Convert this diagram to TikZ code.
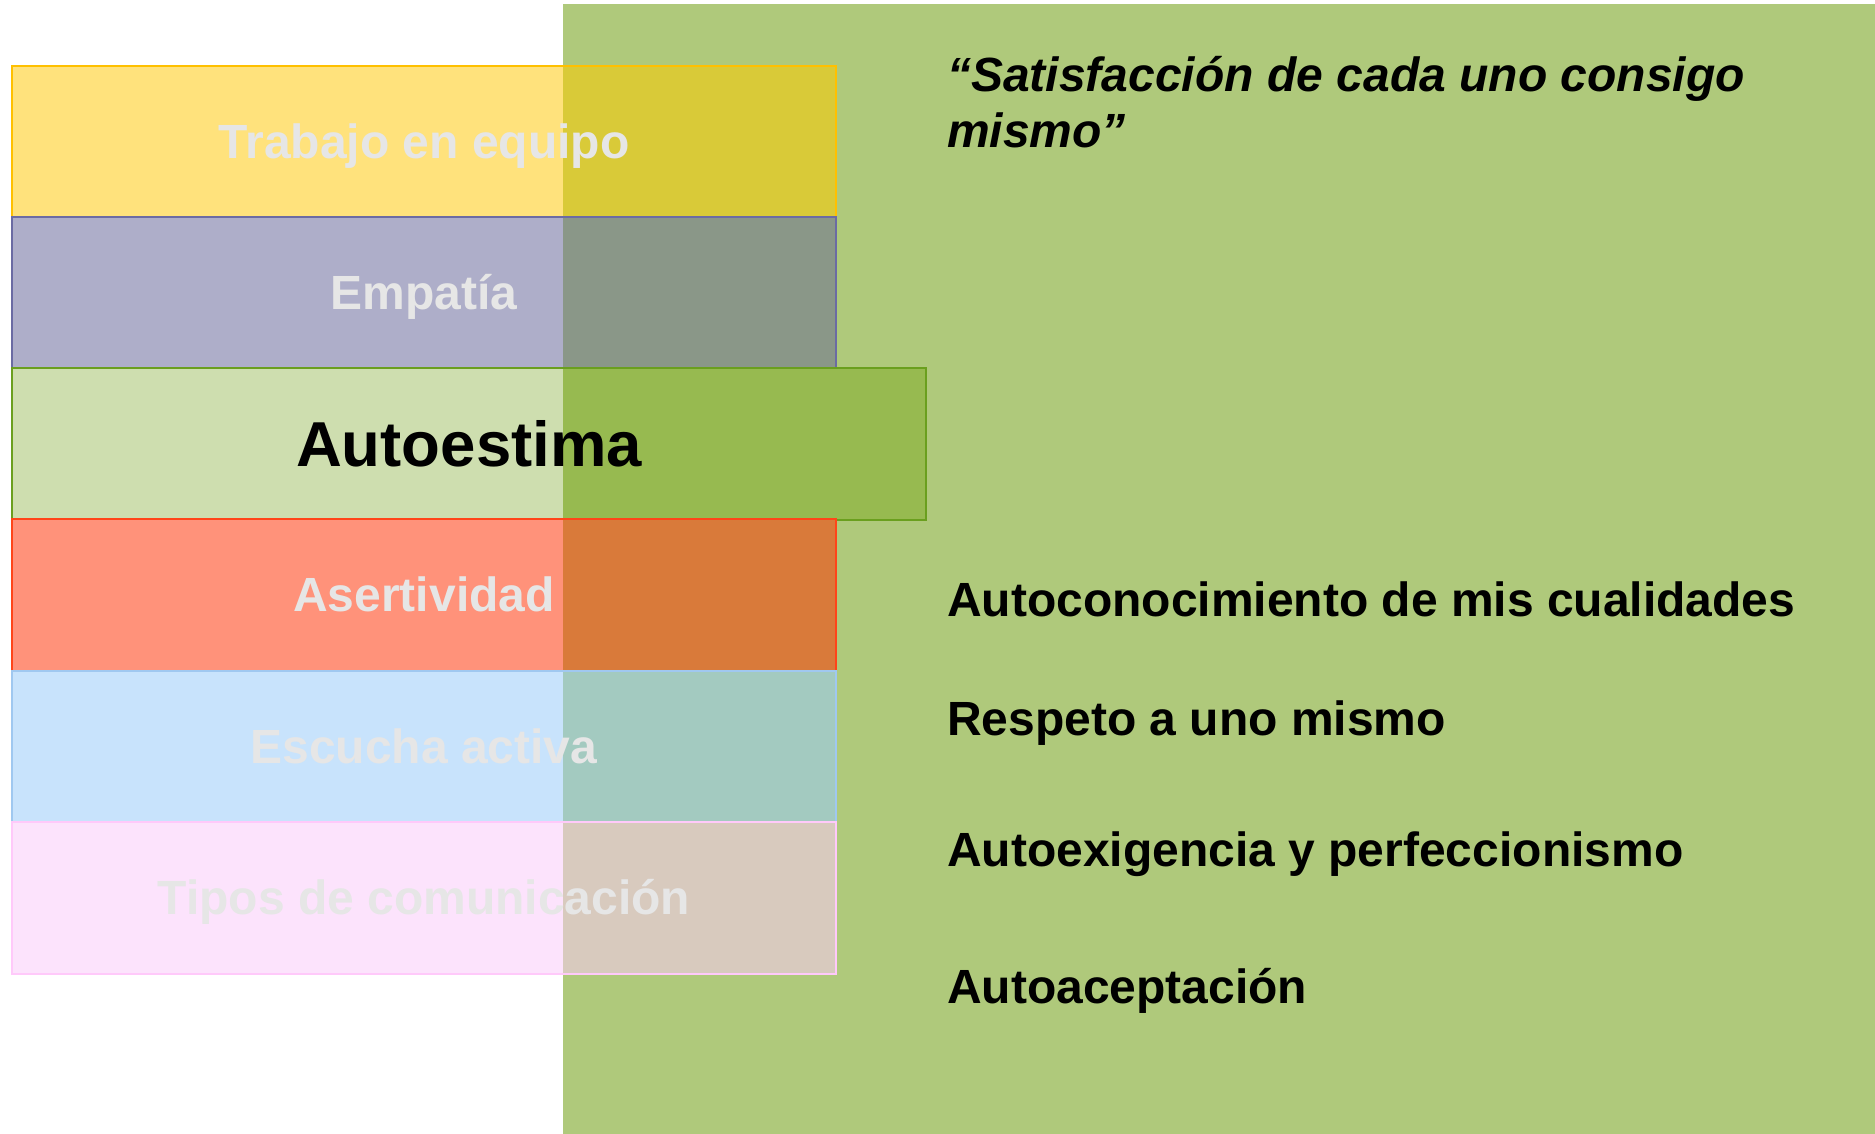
\documentclass[tikz,border=0pt]{standalone}
\usepackage{fontspec}
\setmainfont{Liberation Sans}
\definecolor{greenbg}{HTML}{AFC97B}
\definecolor{yelout}{HTML}{FFE27C}\definecolor{yelin}{HTML}{D9CA38}\definecolor{yelbd}{HTML}{FFC000}
\definecolor{purout}{HTML}{AEAEC9}\definecolor{purin}{HTML}{8A9788}\definecolor{purbd}{HTML}{6B6BA3}
\definecolor{grnout}{HTML}{CEDEAF}\definecolor{grnin}{HTML}{97BA50}\definecolor{grnbd}{HTML}{6A9F1E}
\definecolor{redout}{HTML}{FF927A}\definecolor{redin}{HTML}{D97A3A}\definecolor{redbd}{HTML}{FF4519}
\definecolor{bluout}{HTML}{C8E3FC}\definecolor{bluin}{HTML}{A3CAC0}\definecolor{blubd}{HTML}{A0C8F0}
\definecolor{pnkout}{HTML}{FCE3FC}\definecolor{pnkin}{HTML}{D8CABE}\definecolor{pnkbd}{HTML}{FFC9FA}
\definecolor{lbltext}{HTML}{E6E6E6}
\tikzset{
  bar/.style n args={3}{rectangle, anchor=north west, inner sep=0pt, line width=2pt,
    minimum width=824pt, minimum height=151.5pt, fill=#1, draw=#3,
    path picture={\fill[#2] (greenleft |- path picture bounding box.south) rectangle (path picture bounding box.north east);},
    text=lbltext, font=\fontsize{48}{55}\selectfont\bfseries, text height=34pt, text depth=0pt},
  item/.style={anchor=base west, inner sep=0pt, font=\fontsize{48}{55}\selectfont\bfseries, text=black}
}
\begin{document}
\begin{tikzpicture}[x=1pt,y=-1pt]
\useasboundingbox (0,0) rectangle (1875,1134);
\fill[white] (0,0) rectangle (1875,1134);
\coordinate (greenleft) at (563,0);
\fill[greenbg] (greenleft |- 0,4) rectangle (1875,1134);
\node[bar={yelout}{yelin}{yelbd}] (b1) at (11,65) {Trabajo en equipo};
\node[bar={purout}{purin}{purbd}] (b2) at (11,216) {Empatía};
\node[bar={grnout}{grnin}{grnbd}, minimum width=914pt, text=black, font=\fontsize{63.5}{70}\selectfont\bfseries, text height=45.5pt] (b3) at (11,367) {Autoestima};
\node[bar={redout}{redin}{redbd}] (b4) at (11,518) {Asertividad};
\node[bar={bluout}{bluin}{blubd}] (b5) at (11,669.5) {Escucha activa};
\node[bar={pnkout}{pnkin}{pnkbd}] (b6) at (11,821) {Tipos de comunicación};
\node[item, align=left, font=\fontsize{48}{56}\selectfont\bfseries\itshape] (q) at (947,148) {“Satisfacción de cada uno consigo\\mismo”};
\node[item] (i1) at (947,616) {Autoconocimiento de mis cualidades};
\node[item] (i2) at (947,735) {Respeto a uno mismo};
\node[item] (i3) at (947,866) {Autoexigencia y perfeccionismo};
\node[item] (i4) at (947,1003) {Autoaceptación};
\end{tikzpicture}
\end{document}
